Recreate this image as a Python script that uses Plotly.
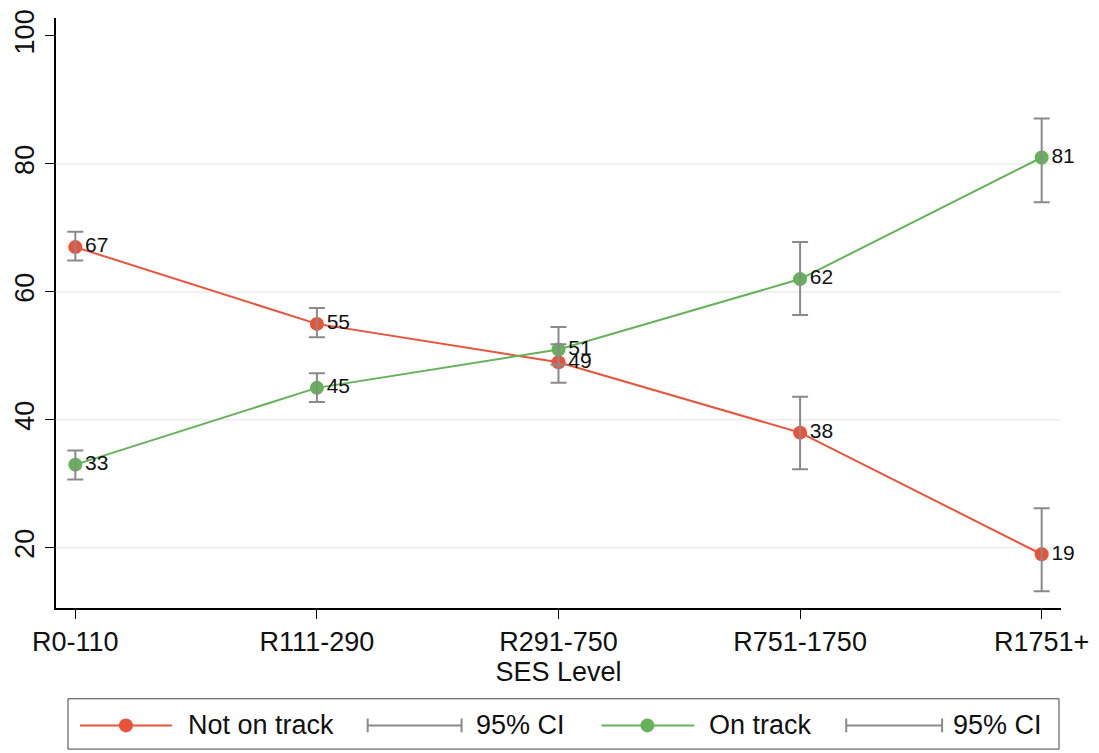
import plotly.graph_objects as go

# Share of learners by socio-economic status band (%), with 95% confidence intervals
ses_levels = ["R0-110", "R111-290", "R291-750", "R751-1750", "R1751+"]

not_on_track = [67, 55, 49, 38, 19]
not_on_track_lo = [64.9, 52.9, 45.8, 32.3, 13.2]
not_on_track_hi = [69.4, 57.5, 51.8, 43.6, 26.2]

on_track = [33, 45, 51, 62, 81]
on_track_lo = [30.7, 42.8, 48.6, 56.4, 74.0]
on_track_hi = [35.2, 47.3, 54.5, 67.8, 87.1]

y_ticks = [20, 40, 60, 80, 100]
grid_values = [20, 40, 60, 80]

RED = "#E8533A"
GREEN = "#66B25A"
CI_GREY = "#8A8A8A"
FONT = "Liberation Sans, Arial, sans-serif"
TEXT = "#111111"

W, H = 1099, 753
M_L, M_R, M_T, M_B = 56, 37, 10, 145
PLOT_W = W - M_L - M_R
PLOT_H = H - M_T - M_B


def px_x(px):
    """Horizontal pixel position -> paper coordinate."""
    return (px - M_L) / PLOT_W


def px_y(py):
    """Vertical pixel position (from top) -> paper coordinate."""
    return (H - M_B - py) / PLOT_H


x_idx = list(range(len(ses_levels)))

fig = go.Figure()

# Main series: lines, markers and value labels
for name, vals, color in [("Not on track", not_on_track, RED), ("On track", on_track, GREEN)]:
    fig.add_trace(go.Scatter(
        x=x_idx, y=vals, name=name,
        mode="lines+markers+text",
        line=dict(color=color, width=2),
        marker=dict(color=color, size=14),
        text=[f"{v:.0f}" for v in vals],
        textposition="middle right",
        textfont=dict(family=FONT, size=21, color=TEXT),
        showlegend=False,
        cliponaxis=False,
    ))

# Confidence intervals drawn on top of the markers
for vals, lo, hi in [(not_on_track, not_on_track_lo, not_on_track_hi),
                     (on_track, on_track_lo, on_track_hi)]:
    fig.add_trace(go.Scatter(
        x=x_idx, y=vals, mode="markers",
        marker=dict(size=0.1, opacity=0),
        error_y=dict(type="data", symmetric=False,
                     array=[h - v for v, h in zip(vals, hi)],
                     arrayminus=[v - l for v, l in zip(vals, lo)],
                     color=CI_GREY, thickness=2, width=8),
        showlegend=False, hoverinfo="skip",
    ))

shapes = []
# Horizontal grid lines
for g in grid_values:
    shapes.append(dict(type="line", xref="paper", yref="y", x0=0, x1=1, y0=g, y1=g,
                       line=dict(color="#EDEDED", width=1.5), layer="below"))

# Legend box and keys
leg_y = px_y(727)
shapes.append(dict(type="rect", xref="paper", yref="paper",
                   x0=px_x(68), x1=px_x(1060), y0=px_y(751), y1=px_y(700),
                   line=dict(color="#444444", width=1), fillcolor="white"))

annotations = []
LEG_FONT = dict(family=FONT, size=27, color=TEXT)


def series_key(x0, x1, xm, color, label, label_x):
    shapes.append(dict(type="line", xref="paper", yref="paper",
                       x0=px_x(x0), x1=px_x(x1), y0=leg_y, y1=leg_y,
                       line=dict(color=color, width=2)))
    shapes.append(dict(type="circle", xref="paper", yref="paper",
                       xsizemode="pixel", ysizemode="pixel",
                       xanchor=px_x(xm), yanchor=leg_y,
                       x0=-7, x1=7, y0=-7, y1=7,
                       line=dict(color=color, width=0), fillcolor=color))
    annotations.append(dict(xref="paper", yref="paper", x=px_x(label_x), y=leg_y,
                            text=label, showarrow=False, xanchor="left", yanchor="middle",
                            font=LEG_FONT))


def ci_key(x0, x1, label, label_x):
    cap = 7 / PLOT_H
    shapes.append(dict(type="line", xref="paper", yref="paper",
                       x0=px_x(x0), x1=px_x(x1), y0=leg_y, y1=leg_y,
                       line=dict(color=CI_GREY, width=2)))
    for xc in (x0, x1):
        shapes.append(dict(type="line", xref="paper", yref="paper",
                           x0=px_x(xc), x1=px_x(xc), y0=leg_y - cap, y1=leg_y + cap,
                           line=dict(color=CI_GREY, width=2)))
    annotations.append(dict(xref="paper", yref="paper", x=px_x(label_x), y=leg_y,
                            text=label, showarrow=False, xanchor="left", yanchor="middle",
                            font=LEG_FONT))


series_key(80, 172, 126, RED, "Not on track", 186)
ci_key(368, 462, "95% CI", 474)
series_key(602, 695, 648, GREEN, "On track", 708)
ci_key(847, 943, "95% CI", 952)

fig.update_layout(
    width=W, height=H,
    margin=dict(l=M_L, r=M_R, t=M_T, b=M_B, pad=0),
    paper_bgcolor="white", plot_bgcolor="white",
    font=dict(family=FONT, size=27, color=TEXT),
    shapes=shapes, annotations=annotations,
    showlegend=False,
)

fig.update_xaxes(
    range=[-0.08, 4.08],
    tickvals=x_idx, ticktext=ses_levels,
    showline=True, linecolor="black", linewidth=1.5,
    ticks="outside", ticklen=9, tickwidth=1.2, tickcolor="black",
    showgrid=False, zeroline=False,
    tickfont=dict(family=FONT, size=27, color=TEXT),
    title=dict(text="SES Level", standoff=2, font=dict(family=FONT, size=27, color=TEXT)),
)

fig.update_yaxes(
    range=[10.6, 102.8],
    tickvals=y_ticks,
    showline=True, linecolor="black", linewidth=1.5,
    ticks="outside", ticklen=9, tickwidth=1.2, tickcolor="black",
    showgrid=False, zeroline=False,
    tickangle=-90,
    tickfont=dict(family=FONT, size=27, color=TEXT),
)

fig.write_html("out.html")
